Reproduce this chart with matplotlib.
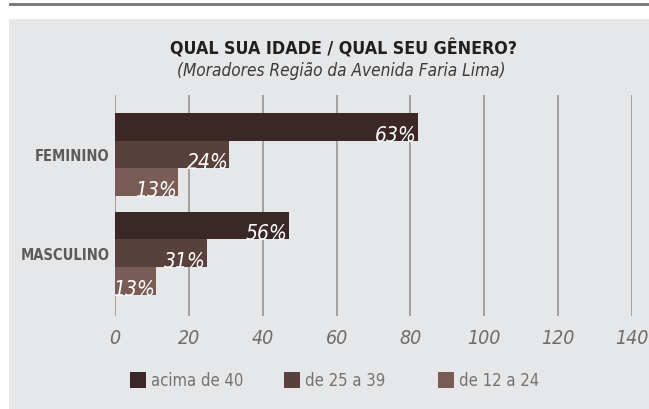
import matplotlib
matplotlib.use("Agg")
import matplotlib.pyplot as plt
from matplotlib import font_manager
from matplotlib.patches import Rectangle
import numpy as np

# data (bar lengths are counts, labels are the printed shares)
categories = ["FEMININO", "MASCULINO"]
series_names = ["acima de 40", "de 25 a 39", "de 12 a 24"]
acima_40 = [82, 47]
de_25_39 = [31, 25]
de_12_24 = [17, 11]
labels_acima_40 = ["63%", "56%"]
labels_25_39 = ["24%", "31%"]
labels_12_24 = ["13%", "13%"]
x_ticks = [0, 20, 40, 60, 80, 100, 120, 140]

COLOURS = ["#3b2725", "#58403c", "#7a5c56"]
BG = "#e6e7e9"

available = {f.name for f in font_manager.fontManager.ttflist}
if "Liberation Sans Narrow" in available:
    FAMILY = ["Liberation Sans Narrow", "DejaVu Sans"]
    STRETCH = "normal"
else:
    FAMILY = ["DejaVu Sans"]
    STRETCH = "condensed"
plt.rcParams["font.family"] = FAMILY
plt.rcParams["font.stretch"] = STRETCH

W, H = 649, 410
fig = plt.figure(figsize=(W / 100, H / 100), dpi=100)
fig.patch.set_facecolor("white")

# top rule and grey panel (behind the axes)
fig.add_artist(Rectangle((9 / W, 1 - 6.5 / H), 1, 3 / H, transform=fig.transFigure,
                         facecolor="#7c7c7c", edgecolor="none", zorder=-10))
fig.add_artist(Rectangle((9 / W, 0), 1, 1 - 20 / H, transform=fig.transFigure,
                         facecolor=BG, edgecolor="none", zorder=-10))

ax = fig.add_axes([115 / W, 93 / H, (632 - 115) / W, (317 - 96) / H])
ax.set_facecolor("none")

series = [acima_40, de_25_39, de_12_24]
series_labels = [labels_acima_40, labels_25_39, labels_12_24]
bar_h = 0.28
ypos = np.arange(len(categories))

for i, (vals, labs) in enumerate(zip(series, series_labels)):
    yy = ypos + (i - 1) * bar_h
    ax.barh(yy, vals, height=bar_h, color=COLOURS[i], zorder=3, label=series_names[i])
    for y, v, lab in zip(yy, vals, labs):
        ax.text(v - 0.3, y + bar_h / 2, lab, ha="right", va="baseline",
                color="white", fontsize=15, style="italic", zorder=4,
                clip_on=True)

ax.set_xlim(0, 140)
ax.set_ylim(1.636, -0.602)
ax.set_xticks(x_ticks)
ax.set_xticklabels([str(t) for t in x_ticks], style="italic", color="#6d6d6d", fontsize=14)
ax.tick_params(axis="x", length=0, pad=9)
ax.set_yticks(ypos)
ax.set_yticklabels(categories, fontweight="bold", color="#5b5b5b", fontsize=10.5)
ax.tick_params(axis="y", length=0, pad=4)
ax.grid(axis="x", color="#8e8e8e", linewidth=1.1, zorder=0)
ax.set_axisbelow(True)
for s in ax.spines.values():
    s.set_visible(False)

fig.text(343 / W, 1 - 49 / H, "QUAL SUA IDADE / QUAL SEU GÊNERO?", ha="center", va="center",
         fontsize=12.8, fontweight="bold", color="#231f20")
fig.text(341 / W, 1 - 71 / H, "(Moradores Região da Avenida Faria Lima)", ha="center",
         va="center", fontsize=12.3, style="italic", color="#3a3a3a")

# legend
for i, name in enumerate(series_names):
    x0 = 130 + i * 154
    fig.add_artist(Rectangle((x0 / W, 1 - 388.5 / H), 16 / W, 16 / H, transform=fig.transFigure,
                             facecolor=COLOURS[i], edgecolor="none"))
    fig.text((x0 + 21) / W, 1 - 381 / H, name, ha="left", va="center",
             fontsize=12, color="#737373")

fig.savefig("out.png", dpi=100, facecolor=fig.get_facecolor())
